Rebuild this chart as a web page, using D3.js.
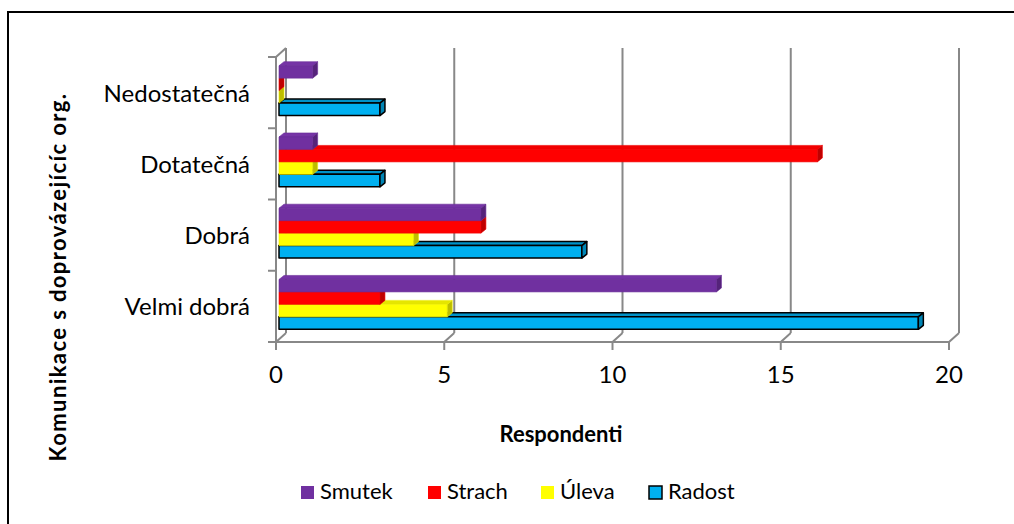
<!DOCTYPE html>
<html>
<head>
<meta charset="utf-8">
<script src="https://cdn.jsdelivr.net/npm/d3@7"></script>
<style>
  body { margin: 0; background: #fff; }
  svg { display: block; font-family: Lato, "DejaVu Sans", sans-serif; }
</style>
</head>
<body>
<script>
// data (categories top to bottom)
var categories = ["Nedostatečná", "Dotatečná", "Dobrá", "Velmi dobrá"];
var series = ["Smutek", "Strach", "Úleva", "Radost"];
var smutek = [1, 1, 6, 13];
var strach = [0, 16, 6, 3];
var uleva = [0, 1, 4, 5];
var radost = [3, 3, 9, 19];
var xTicks = [0, 5, 10, 15, 20];

var values = { "Smutek": smutek, "Strach": strach, "Úleva": uleva, "Radost": radost };

var colors = {
  "Smutek": { front: "#7030A0", top: "#7634A6", side: "#55237A", stroke: "#6a2d99" },
  "Strach": { front: "#FF0000", top: "#F20000", side: "#BF0000", stroke: "#ee0000" },
  "Úleva":  { front: "#FFFF00", top: "#E6E600", side: "#BDBD00", stroke: "#eeee00" },
  "Radost": { front: "#00B0F0", top: "#0092C8", side: "#0085B5", stroke: "#000000" }
};

var width = 1014, height = 524;

var svg = d3.select("body").append("svg")
    .attr("width", width)
    .attr("height", height);

// outer frame
svg.append("rect")
    .attr("x", 8).attr("y", 12)
    .attr("width", 1030).attr("height", 540)
    .attr("fill", "none")
    .attr("stroke", "#000")
    .attr("stroke-width", 2);

// scales (front plane of the 3d box)
var x = d3.scaleLinear().domain([0, 20]).range([276, 949]);
var y = d3.scaleBand().domain(categories).range([57, 342])
    .paddingInner(0.3).paddingOuter(0.15);
var ys = d3.scaleBand().domain(series).range([0, y.bandwidth()]);

var D = { x: 10, y: -9 };   // wall depth
var F = { x: 3, y: -2 };    // bar front offset
var d = { x: 5, y: -4 };    // bar depth

var gridColor = "#888888";
var yTop = 57, yBot = 342;

// back wall gridlines + floor diagonals
var grid = svg.append("g").attr("stroke", gridColor).attr("stroke-width", 2).attr("fill", "none");
xTicks.forEach(function(t) {
  grid.append("line")
      .attr("x1", x(t) + D.x).attr("x2", x(t) + D.x)
      .attr("y1", yTop + D.y).attr("y2", yBot + D.y);
  grid.append("line")
      .attr("x1", x(t)).attr("y1", yBot)
      .attr("x2", x(t) + D.x).attr("y2", yBot + D.y);
});
// left wall top diagonal
grid.append("line")
    .attr("x1", x(0)).attr("y1", yTop)
    .attr("x2", x(0) + D.x).attr("y2", yTop + D.y);

// front axes
var axes = svg.append("g").attr("stroke", gridColor).attr("stroke-width", 2);
axes.append("line")
    .attr("x1", x(0)).attr("x2", x(0))
    .attr("y1", yTop).attr("y2", yBot);
axes.append("line")
    .attr("x1", x(0) - 8).attr("x2", x(20))
    .attr("y1", yBot).attr("y2", yBot);
// category boundary ticks
d3.range(categories.length + 1).forEach(function(i) {
  var yy = yTop + i * (yBot - yTop) / categories.length;
  axes.append("line")
      .attr("x1", x(0) - 8).attr("x2", x(0))
      .attr("y1", yy).attr("y2", yy);
});
xTicks.forEach(function(t) {
  axes.append("line")
      .attr("x1", x(t)).attr("x2", x(t))
      .attr("y1", yBot).attr("y2", yBot + 8);
});

// bars: draw bottom category first, bottom series first
var bars = svg.append("g");
categories.slice().reverse().forEach(function(cat) {
  var ci = categories.indexOf(cat);
  series.slice().reverse().forEach(function(s) {
    var v = values[s][ci];
    var c = colors[s];
    var x0 = x(0) + F.x, x1 = x(v) + F.x;
    var y0 = y(cat) + ys(s) + F.y, h = ys.bandwidth();
    var sw = s === "Radost" ? 1.5 : 0.6;
    var g = bars.append("g")
        .attr("stroke", c.stroke)
        .attr("stroke-width", sw)
        .attr("stroke-linejoin", "round");
    // top face
    g.append("polygon")
        .attr("points", [[x0, y0], [x0 + d.x, y0 + d.y], [x1 + d.x, y0 + d.y], [x1, y0]].join(" "))
        .attr("fill", c.top);
    // front face
    g.append("rect")
        .attr("x", x0).attr("y", y0)
        .attr("width", x1 - x0).attr("height", h)
        .attr("fill", c.front);
    // side face
    g.append("polygon")
        .attr("points", [[x1, y0], [x1 + d.x, y0 + d.y], [x1 + d.x, y0 + h + d.y], [x1, y0 + h]].join(" "))
        .attr("fill", c.side);
  });
});

// category labels
svg.append("g").selectAll("text")
    .data(categories)
  .enter().append("text")
    .attr("x", 250)
    .attr("y", function(c) { return y(c) + y.bandwidth() / 2 + 3; })
    .attr("text-anchor", "end")
    .attr("dominant-baseline", "middle")
    .style("font-size", "24px")
    .text(function(c) { return c; });

// x tick labels
svg.append("g").selectAll("text")
    .data(xTicks)
  .enter().append("text")
    .attr("x", function(t) { return x(t); })
    .attr("y", 377)
    .attr("text-anchor", "middle")
    .attr("dominant-baseline", "middle")
    .style("font-size", "24px")
    .text(function(t) { return t; });

// axis titles
svg.append("text")
    .attr("x", 561).attr("y", 436)
    .attr("text-anchor", "middle")
    .attr("dominant-baseline", "middle")
    .style("font-size", "22px")
    .style("font-weight", "bold")
    .text("Respondenti");

svg.append("text")
    .attr("transform", "translate(60,277) rotate(-90)")
    .attr("text-anchor", "middle")
    .attr("dominant-baseline", "middle")
    .style("font-size", "22px")
    .style("font-weight", "bold")
    .style("letter-spacing", "1.4px")
    .text("Komunikace s doprovázejícíc org.");

// legend
var legendX = [301, 428, 541, 649];
var legend = svg.append("g").selectAll("g")
    .data(series)
  .enter().append("g")
    .attr("transform", function(s, i) { return "translate(" + legendX[i] + ",493)"; });
legend.append("rect")
    .attr("x", 0).attr("y", -7)
    .attr("width", 13).attr("height", 13)
    .attr("fill", function(s) { return colors[s].front; })
    .attr("stroke", function(s) { return s === "Radost" ? "#000" : "none"; })
    .attr("stroke-width", 1.5);
legend.append("text")
    .attr("x", 19).attr("y", 0)
    .attr("dominant-baseline", "middle")
    .style("font-size", "22px")
    .text(function(s) { return s; });
</script>
</body>
</html>
